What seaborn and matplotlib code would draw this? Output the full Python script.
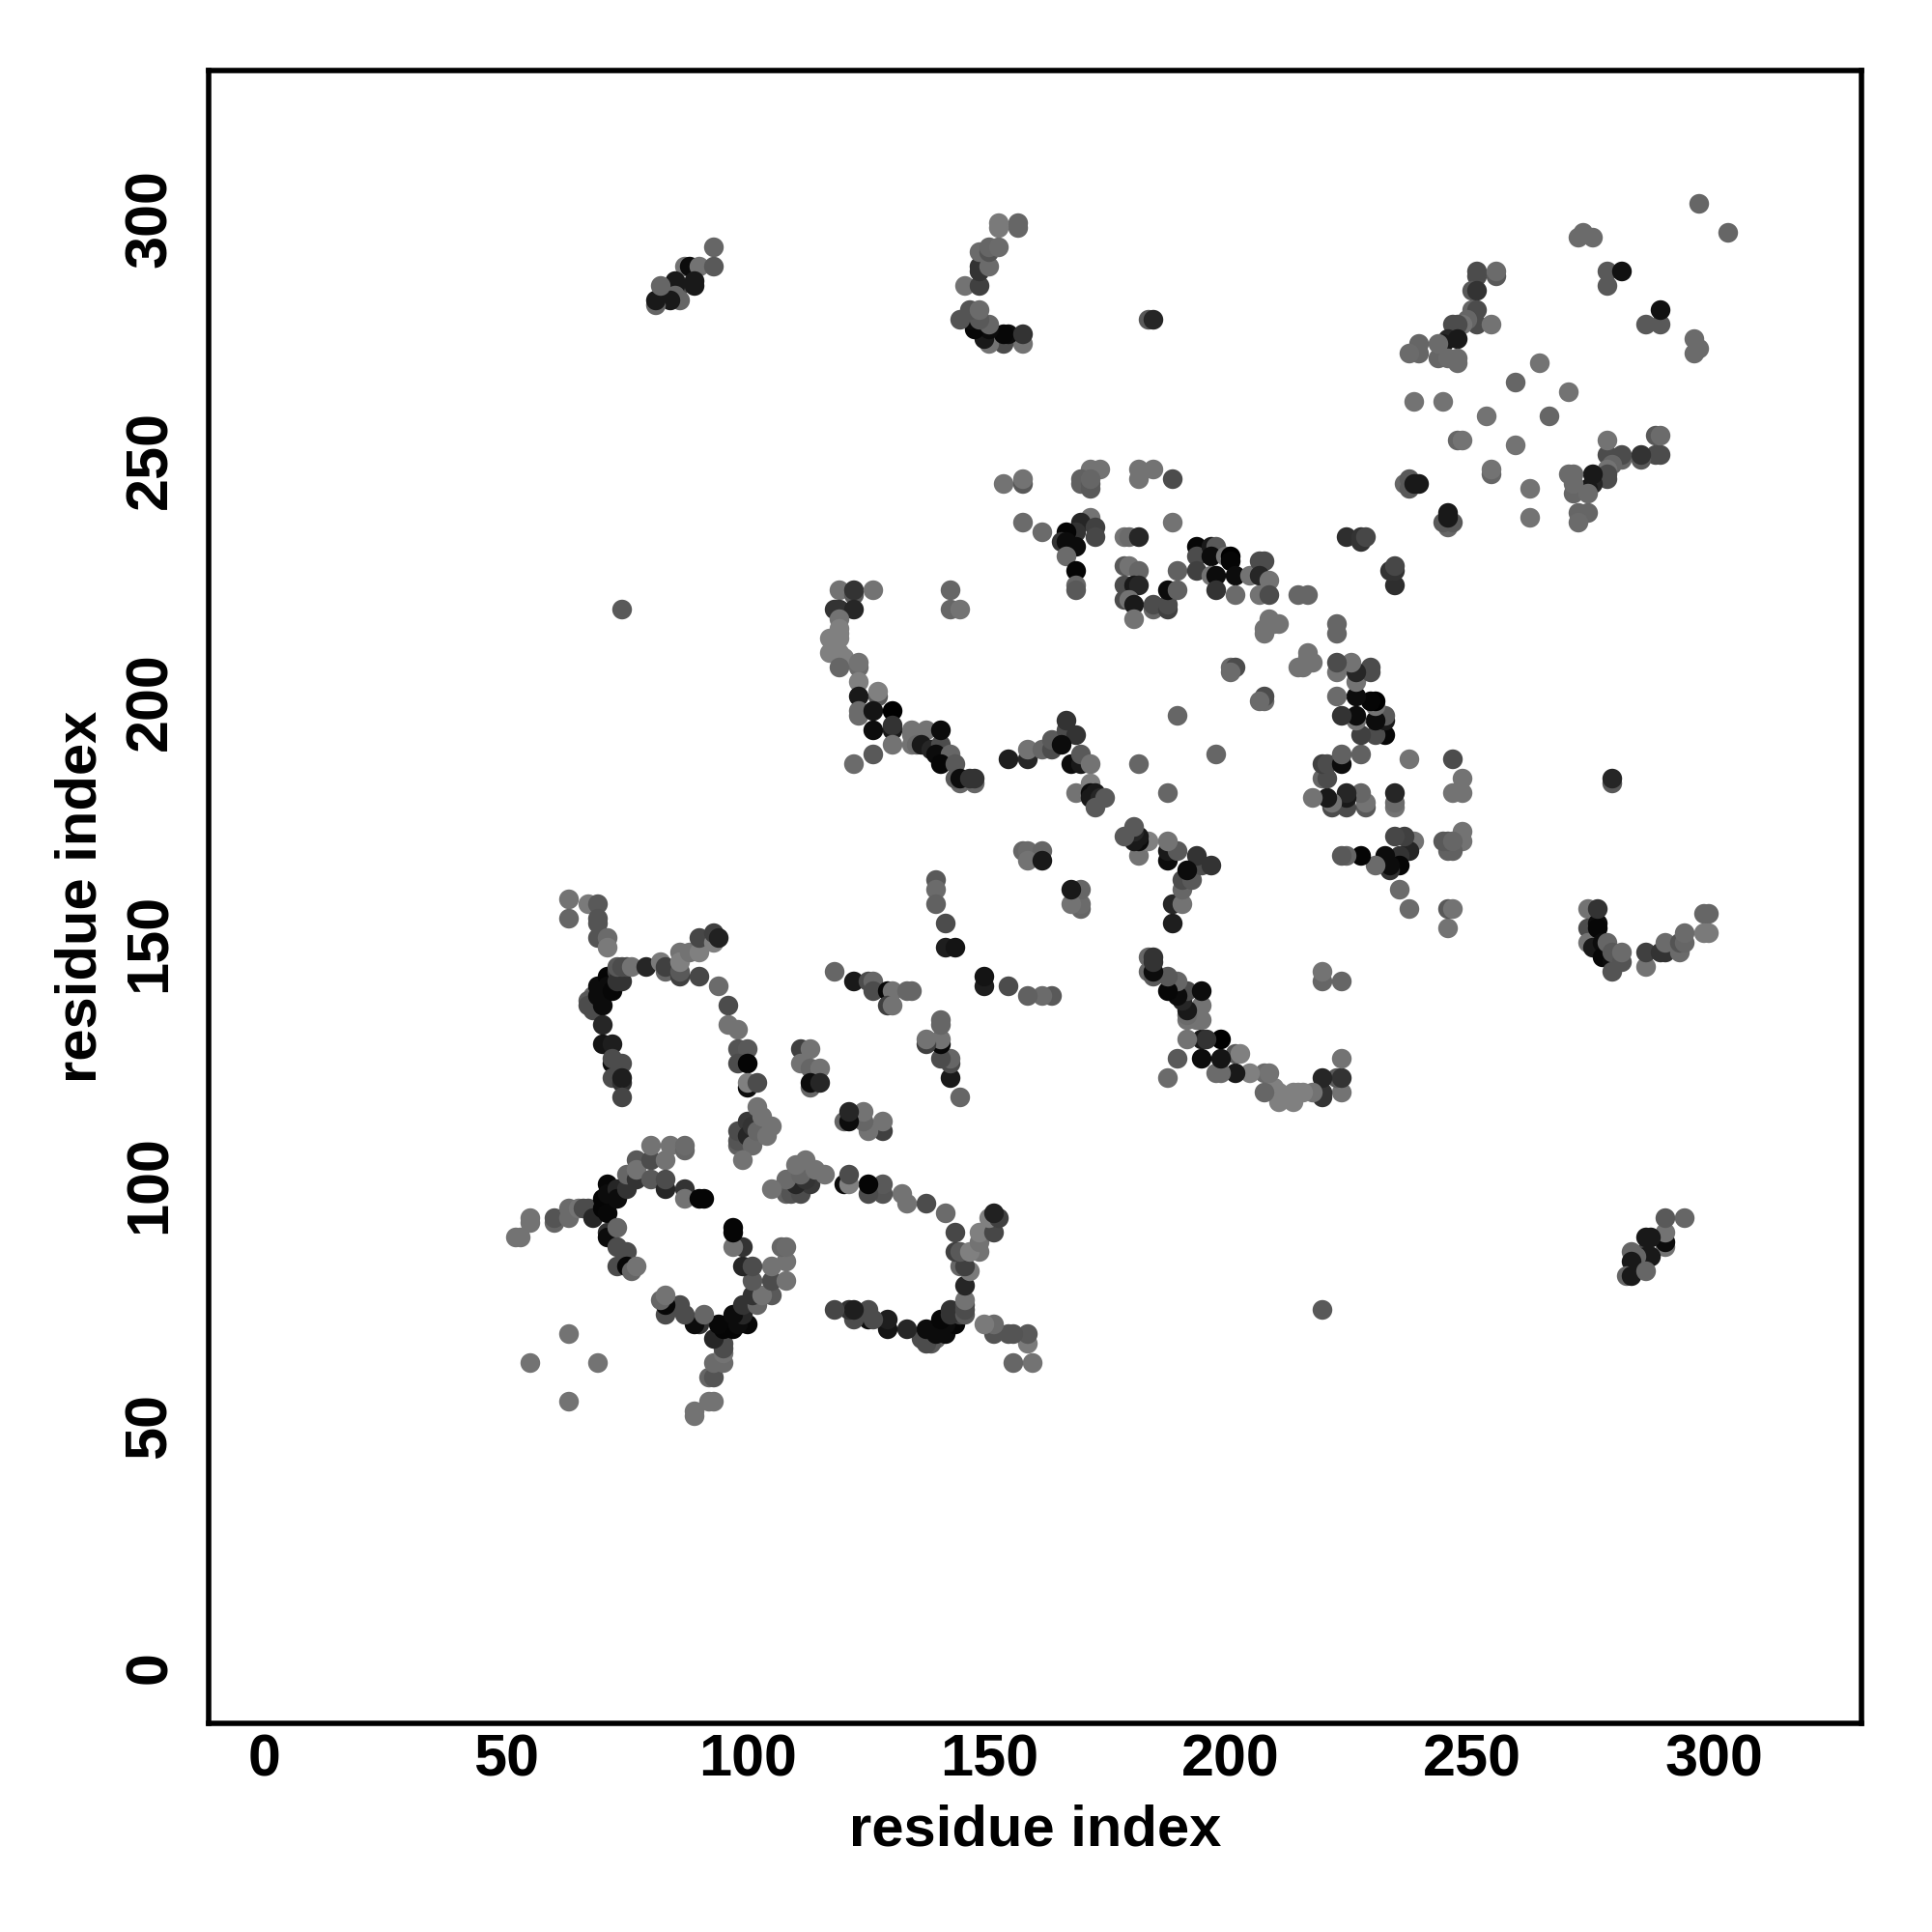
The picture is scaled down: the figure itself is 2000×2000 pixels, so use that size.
"""Residue contact map, each contact drawn on both sides of the diagonal."""

import matplotlib
matplotlib.use('Agg')
import matplotlib.pyplot as plt
import pandas as pd
import seaborn as sns

# contacts as (residue i, residue j, grey level)
n_term_arc = [
    (63, 159, .45), (63, 155, .40), (67, 158, .48), (69, 158, .35), (69, 155, .33), (69, 154, .33),
    (69, 151, .33), (71, 151, .42), (71, 149, .48), (68, 139, .40), (67, 138, .35), (67, 137, .30),
    (68, 136, .30), (69, 141, .05), (69, 139, .05), (70, 139, .05), (70, 137, .05), (71, 143, .02),
    (71, 141, .05), (72, 140, .03), (73, 144, .25), (73, 142, .20), (74, 142, .20), (73, 145, .35),
    (74, 145, .30), (75, 145, .30), (76, 145, .45), (79, 145, .15), (82, 146, .48), (83, 144, .40),
    (83, 145, .25), (86, 148, .45), (86, 143, .25), (86, 144, .35), (86, 146, .50), (88, 148, .45),
    (90, 148, .50), (90, 151, .28), (93, 150, .50), (93, 152, .25), (94, 151, .13), (90, 143, .28),
    (94, 141, .42), (96, 137, .30), (96, 133, .45), (98, 132, .45), (98, 128, .33), (100, 128, .35),
    (98, 125, .30), (100, 125, .02), (100, 120, .05), (100, 121, .50), (102, 121, .30),
    (70, 133, .15), (70, 129, .08), (72, 129, .12), (72, 125, .05), (72, 126, .30), (74, 125, .30),
    (72, 122, .30), (74, 121, .20), (74, 122, .12), (74, 118, .27),
]
mid_cluster = [
    (111, 128, .25), (113, 128, .45), (111, 125, .45), (113, 124, .40), (115, 124, .45),
    (113, 120, .40), (113, 121, .05), (115, 121, .15),
    (98, 108, .38), (98, 109, .33), (98, 111, .30), (100, 113, .22), (100, 110, .15), (101, 112, .20),
    (101, 108, .42), (102, 111, .40), (99, 105, .45), (104, 110, .45), (102, 116, .45),
    (103, 114, .45), (105, 112, .45),
]
centre_cross = [
    (118, 144, .40), (122, 142, .10), (125, 142, .30), (126, 142, .40), (126, 140, .30),
    (129, 140, .03), (130, 140, .45), (129, 137, .25), (130, 137, .45), (133, 140, .40),
    (134, 140, .40), (139, 163, .35), (139, 161, .42), (139, 158, .38), (141, 154, .30),
    (141, 149, .12), (143, 149, .08), (74, 219, .35),
]
lower_left = [
    (52, 89, .45), (53, 89, .45), (55, 93, .45), (55, 92, .45), (60, 92, .40), (60, 93, .33),
    (63, 93, .42), (63, 95, .42), (65, 95, .45), (66, 95, .30), (67, 95, .30), (68, 93, .15),
    (70, 97, .02), (70, 95, .02), (71, 100, .03), (71, 98, .05), (71, 94, .03), (73, 99, .15),
    (73, 97, .05), (75, 99, .20), (75, 102, .40), (77, 101, .20), (77, 105, .35), (77, 103, .45),
    (80, 105, .30), (80, 108, .45), (83, 105, .45), (84, 108, .45), (87, 107, .40), (87, 108, .42),
    (80, 101, .35), (83, 99, .15), (83, 101, .30), (87, 99, .20), (87, 97, .45), (90, 97, .02),
    (91, 97, .02), (71, 90, .20), (71, 89, .05), (73, 91, .40), (73, 87, .30), (75, 86, .30),
    (73, 83, .30), (75, 83, .03), (76, 82, .40), (77, 83, .45),
    (63, 69, .45), (55, 63, .45),
]
helix_block = [
    (119, 223, .45), (122, 222, .35), (122, 223, .20), (126, 223, .45), (118, 219, .20),
    (119, 219, .20), (122, 219, .15), (142, 223, .40), (142, 219, .40), (144, 219, .45),
    (119, 217, .45), (119, 215, .50), (119, 214, .50), (117, 213, .50), (119, 213, .50),
    (117, 210, .50), (119, 210, .50), (120, 209, .50), (119, 207, .40), (123, 207, .42),
    (123, 208, .45), (123, 204, .50), (123, 201, .10), (123, 197, .42), (123, 198, .42),
    (127, 201, .35), (127, 202, .50), (126, 198, .08), (126, 194, .05), (130, 198, .00),
    (130, 194, .10), (130, 195, .20), (134, 193, .45), (134, 194, .45), (137, 194, .45),
    (130, 191, .45), (134, 191, .45), (135, 191, .42), (136, 191, .10), (138, 190, .15),
    (140, 191, .30), (140, 194, .05), (139, 189, .05), (142, 189, .40), (140, 187, .03),
    (143, 187, .35), (144, 183, .40), (143, 184, .35), (144, 184, .05), (147, 183, .40),
    (146, 184, .20), (147, 184, .20), (126, 189, .35), (122, 187, .42),
]
helix_centre = [
    (154, 188, .12), (158, 188, .15), (158, 190, .45), (161, 190, .40), (163, 190, .30),
    (163, 192, .35), (166, 194, .30), (166, 196, .20), (168, 193, .20), (165, 191, .05),
    (167, 187, .05), (169, 187, .10), (169, 189, .35), (171, 187, .45), (168, 181, .45),
    (171, 183, .50), (171, 181, .05), (171, 180, .10), (172, 181, .10), (173, 180, .15),
    (172, 178, .35), (174, 180, .35), (181, 187, .40), (189, 197, .40),
    (157, 169, .40), (158, 169, .42), (161, 169, .40), (158, 167, .45), (161, 167, .10),
    (200, 207, .42), (201, 207, .30), (200, 206, .42),
    (207, 215, .45), (207, 214, .45), (208, 217, .45), (209, 216, .45), (210, 216, .45),
]
upper_band = [
    (153, 245, .45), (157, 245, .35), (157, 246, .45), (173, 248, .45), (171, 248, .45),
    (169, 246, .38), (169, 245, .38), (171, 244, .35), (171, 245, .35), (171, 246, .40),
    (181, 246, .45), (181, 248, .45), (184, 248, .45), (188, 246, .30), (157, 237, .42),
    (161, 235, .42), (188, 237, .45), (171, 238, .45), (169, 237, .15), (172, 236, .25),
    (172, 234, .28), (168, 235, .20), (166, 235, .02), (165, 233, .20), (166, 233, .05),
    (168, 232, .05), (166, 230, .42), (168, 227, .02), (168, 224, .40), (168, 223, .35),
    (178, 234, .45), (179, 234, .42), (181, 234, .15), (178, 228, .35), (179, 228, .45),
    (181, 227, .40), (178, 224, .30), (180, 224, .10), (181, 224, .15), (178, 221, .30),
    (179, 221, .45), (180, 220, .10), (184, 219, .40), (184, 220, .30), (180, 217, .45),
    (187, 219, .25), (187, 220, .30), (189, 227, .38), (187, 223, .05), (189, 223, .38),
    (193, 232, .03), (193, 230, .30), (193, 227, .25), (196, 232, .10), (197, 232, .35),
    (196, 230, .05), (199, 230, .45), (200, 230, .00), (200, 229, .02), (196, 226, .45),
    (197, 226, .05), (197, 223, .20), (201, 226, .05), (201, 222, .42), (204, 226, .45),
    (206, 229, .30), (207, 229, .30), (206, 226, .15), (208, 225, .45), (206, 222, .45),
    (208, 222, .30), (214, 222, .40), (216, 222, .40), (224, 234, .18), (227, 233, .20),
    (227, 234, .20), (228, 234, .28), (236, 245, .40), (237, 244, .35), (237, 246, .35),
    (238, 245, .10), (239, 245, .10), (183, 279, .35), (184, 279, .15),
]
top_right = [
    (297, 303, .40), (273, 297, .42), (272, 296, .42), (275, 296, .42), (278, 289, .35),
    (281, 289, .07), (278, 286, .35), (251, 288, .30), (251, 289, .30), (255, 288, .35),
    (255, 289, .42), (250, 285, .35), (251, 285, .20), (250, 281, .40), (251, 281, .30),
    (251, 278, .30), (254, 278, .45), (249, 279, .40), (248, 278, .45), (247, 278, .30),
    (246, 278, .30), (245, 275, .15), (247, 275, .10), (244, 274, .10), (239, 272, .40),
    (239, 274, .40), (237, 272, .42), (243, 271, .40), (243, 274, .42), (245, 271, .42),
    (247, 270, .42), (247, 271, .42), (264, 270, .45), (259, 266, .40), (238, 262, .45),
    (244, 262, .45), (253, 259, .45), (247, 254, .40), (248, 254, .45),
]
c_term = [
    (157, 274, .45), (153, 274, .30), (150, 274, .45), (154, 276, .05), (153, 276, .03),
    (157, 276, .20), (149, 275, .10), (150, 277, .05), (147, 277, .03), (150, 278, .40),
    (146, 279, .05), (144, 279, .33), (148, 279, .35), (146, 281, .33), (148, 281, .42),
    (145, 286, .45), (148, 286, .25), (148, 289, .20), (148, 290, .20), (150, 290, .42),
    (148, 293, .42), (150, 293, .33), (150, 294, .40), (152, 294, .42), (156, 298, .40),
    (156, 299, .40), (152, 298, .48), (152, 299, .48),
    (93, 294, .40), (87, 290, .45), (88, 290, .05), (90, 290, .45), (93, 290, .35),
    (86, 286, .30), (89, 286, .10), (89, 287, .10), (85, 286, .10), (85, 287, .10),
    (86, 283, .40), (85, 284, .40), (84, 283, .10), (81, 282, .40), (81, 283, .10), (82, 286, .40),
]

axis_ticks = [0, 50, 100, 150, 200, 250, 300]
axis_label = 'residue index'

contacts = n_term_arc + mid_cluster + centre_cross + lower_left + helix_block \
    + helix_centre + upper_band + top_right + c_term
half = pd.DataFrame(contacts, columns=['i', 'j', 'grey'])
# the map is symmetric, so every (i, j) also appears as (j, i)
df = pd.concat([half, half.rename(columns={'i': 'j', 'j': 'i'})], ignore_index=True)

sns.set_theme(style='white')
plt.rcParams['font.family'] = ['Liberation Sans', 'DejaVu Sans']

fig = plt.figure(figsize=(10, 10), dpi=200)
ax = fig.add_axes([216 / 2000, 216 / 2000, 1711 / 2000, 1711 / 2000])

sns.scatterplot(data=df, x='i', y='j', hue='grey', palette='gray', hue_norm=(0, 1),
                s=54, linewidth=0, alpha=1, legend=False, ax=ax)

ax.set_xlim(-11.6, 330.6)
ax.set_ylim(-11.6, 330.6)
ax.set_xticks(axis_ticks)
ax.set_yticks(axis_ticks)
ax.tick_params(axis='x', length=3.2, width=1, color='black', pad=0.5, labelsize=22, labelcolor='black')
ax.tick_params(axis='y', length=3.2, width=1, color='black', pad=8, labelsize=22, labelcolor='black',
               labelrotation=90)
for lab in ax.get_xticklabels() + ax.get_yticklabels():
    lab.set_fontweight('bold')
for lab in ax.get_yticklabels():
    lab.set_va('center')

ax.set_xlabel(axis_label, fontsize=21.5, fontweight='bold', color='black')
ax.set_ylabel(axis_label, fontsize=21.5, fontweight='bold', color='black')
ax.xaxis.set_label_coords(0.5, -(1895 - 1784) / 1711, transform=ax.transAxes)
ax.xaxis.label.set_va('center')
ax.yaxis.set_label_coords(-(216 - 84) / 1711, 0.5, transform=ax.transAxes)
ax.yaxis.label.set_va('center')

for spine in ax.spines.values():
    spine.set_visible(True)
    spine.set_color('black')
    spine.set_linewidth(2.0)

fig.savefig('out.png', dpi=200)
